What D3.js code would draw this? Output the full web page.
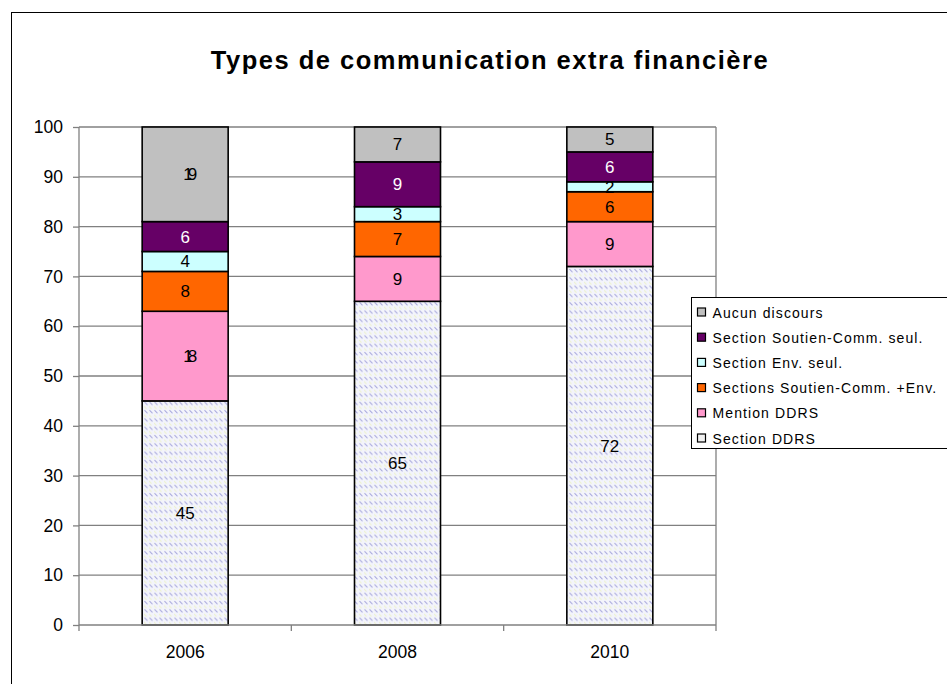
<!DOCTYPE html>
<html lang="fr">
<head>
  <meta charset="UTF-8">
  <script src="https://d3js.org/d3.v7.min.js"></script>
  <title>Types de communication extra financière</title>
  <style>
    body { margin: 0; background: #fff; }
    svg { display: block; font-family: "Liberation Sans", Arial, sans-serif; }
  </style>
</head>
<body>
  <script>
    // data
    const years = ["2006", "2008", "2010"]
    const seriesNames = [
      "Section DDRS",
      "Mention DDRS",
      "Sections Soutien-Comm. +Env.",
      "Section Env. seul.",
      "Section Soutien-Comm. seul.",
      "Aucun discours"
    ]
    const sectionDDRS = [45, 65, 72]
    const mentionDDRS = [18, 9, 9]
    const soutienEnv = [8, 7, 6]
    const envSeul = [4, 3, 2]
    const soutienSeul = [6, 9, 6]
    const aucun = [19, 7, 5]
    const yTicks = [0, 10, 20, 30, 40, 50, 60, 70, 80, 90, 100]

    const colors = ["url(#ddrs)", "#ff99cc", "#ff6600", "#ccffff", "#660066", "#c0c0c0"]
    const textColors = ["#000", "#000", "#000", "#000", "#fff", "#000"]

    const table = years.map((y, i) => ({
      year: y,
      s0: sectionDDRS[i], s1: mentionDDRS[i], s2: soutienEnv[i],
      s3: envSeul[i], s4: soutienSeul[i], s5: aucun[i]
    }))
    const keys = ["s0", "s1", "s2", "s3", "s4", "s5"]

    const dimensions = {
      width: 947,
      height: 684,
      margin: { top: 127, right: 231, bottom: 59, left: 79 }
    }
    dimensions.boundedWidth = dimensions.width - dimensions.margin.left - dimensions.margin.right
    dimensions.boundedHeight = dimensions.height - dimensions.margin.top - dimensions.margin.bottom

    const svg = d3.select("body").append("svg")
        .attr("width", dimensions.width)
        .attr("height", dimensions.height)

    // hatched fill for Section DDRS
    const pat = svg.append("defs").append("pattern")
        .attr("id", "ddrs")
        .attr("patternUnits", "userSpaceOnUse")
        .attr("width", 5).attr("height", 8.3)
    pat.append("rect").attr("width", 5).attr("height", 8.3).attr("fill", "#f3f4fb")
    pat.append("line").attr("x1", 0.5).attr("y1", 1).attr("x2", 3.5).attr("y2", 4)
        .attr("stroke", "#a9a9dd").attr("stroke-width", 1.1)
    pat.append("line").attr("x1", 0).attr("y1", 5.5).attr("x2", 2.5).attr("y2", 8)
        .attr("stroke", "#eef3cf").attr("stroke-width", 1)

    // outer frame (goes past the window on right and bottom)
    svg.append("rect")
        .attr("x", 11.5).attr("y", 12.5)
        .attr("width", 1000).attr("height", 1000)
        .attr("fill", "none").attr("stroke", "#000").attr("stroke-width", 1)

    svg.append("text")
        .attr("x", 490).attr("y", 69)
        .attr("text-anchor", "middle")
        .style("font-size", "25.5px").style("font-weight", "bold")
        .style("letter-spacing", "1.5px")
        .text("Types de communication extra financière")

    const bounds = svg.append("g")
        .attr("transform", `translate(${dimensions.margin.left},${dimensions.margin.top})`)

    const xScale = d3.scaleBand()
        .domain(years)
        .range([0, dimensions.boundedWidth])
        .paddingInner(0.595).paddingOuter(0.2975)
    const xOuter = d3.scaleBand().domain(years).range([0, dimensions.boundedWidth])
    const yScale = d3.scaleLinear()
        .domain([0, 100])
        .range([dimensions.boundedHeight, 0])

    // gridlines
    bounds.append("g").selectAll("line")
        .data(yTicks.slice(1))
        .join("line")
        .attr("x1", 0).attr("x2", dimensions.boundedWidth)
        .attr("y1", d => yScale(d)).attr("y2", d => yScale(d))
        .attr("stroke", "#808080").attr("stroke-width", 1.3)
    bounds.append("line")
        .attr("x1", dimensions.boundedWidth).attr("x2", dimensions.boundedWidth)
        .attr("y1", 0).attr("y2", dimensions.boundedHeight)
        .attr("stroke", "#808080").attr("stroke-width", 1.3)

    const stacked = d3.stack().keys(keys)(table)

    const layers = bounds.append("g").selectAll("g")
        .data(stacked)
        .join("g")
        .attr("fill", (d, i) => colors[i])

    layers.selectAll("rect")
        .data(d => d)
        .join("rect")
        .attr("x", d => xScale(d.data.year))
        .attr("width", xScale.bandwidth())
        .attr("y", d => yScale(d[1]))
        .attr("height", d => yScale(d[0]) - yScale(d[1]))
        .attr("stroke", "#000").attr("stroke-width", 1.6)

    // the two-digit labels in the small segments come out squeezed in the original
    layers.selectAll("text")
        .data((d, i) => d.map(v => ({ v, i })))
        .join("text")
        .attr("x", d => xScale(d.v.data.year) + xScale.bandwidth() / 2 + ((d.i > 0 && d.v[1] - d.v[0] >= 10) ? 2.5 : 0))
        .attr("y", d => yScale((d.v[0] + d.v[1]) / 2) + 6)
        .attr("text-anchor", "middle")
        .attr("fill", d => textColors[d.i])
        .style("font-size", "17px")
        .style("letter-spacing", d => (d.i > 0 && d.v[1] - d.v[0] >= 10) ? "-5px" : "0px")
        .text(d => d.v[1] - d.v[0])

    // y axis
    const yAxis = bounds.append("g")
        .call(d3.axisLeft(yScale).tickValues(yTicks).tickSize(6).tickPadding(10))
    yAxis.selectAll("path, line").attr("stroke", "#808080").attr("stroke-width", 1.3)
    yAxis.selectAll("text").style("font-size", "17.5px").attr("fill", "#000")
    yAxis.select(".domain").attr("d", `M0,0V${dimensions.boundedHeight}`)

    // x axis with ticks between categories
    const xAxis = bounds.append("g")
        .attr("transform", `translate(0,${dimensions.boundedHeight})`)
    xAxis.append("line")
        .attr("x1", 0).attr("x2", dimensions.boundedWidth)
        .attr("stroke", "#808080").attr("stroke-width", 1.3)
    xAxis.selectAll(".tk")
        .data([...years.map(y => xOuter(y)), dimensions.boundedWidth])
        .join("line")
        .attr("class", "tk")
        .attr("x1", d => d).attr("x2", d => d)
        .attr("y1", 0).attr("y2", 6)
        .attr("stroke", "#808080").attr("stroke-width", 1.3)
    xAxis.selectAll("text")
        .data(years)
        .join("text")
        .attr("x", d => xOuter(d) + xOuter.bandwidth() / 2)
        .attr("y", 33)
        .attr("text-anchor", "middle")
        .style("font-size", "17.5px")
        .text(d => d)

    // legend
    const legend = svg.append("g").attr("transform", "translate(691.5,297.5)")
    legend.append("rect")
        .attr("width", 270).attr("height", 151)
        .attr("fill", "#fff").attr("stroke", "#000").attr("stroke-width", 1)
    const legendItems = legend.selectAll("g")
        .data(seriesNames.map((n, i) => ({ n, i })).reverse())
        .join("g")
        .attr("transform", (d, j) => `translate(6,${15 + j * 25.2})`)
    legendItems.append("rect")
        .attr("x", 0).attr("y", -4.5)
        .attr("width", 8).attr("height", 8)
        .attr("fill", d => d.i === 0 ? "#f0f0f0" : colors[d.i])
        .attr("stroke", "#000").attr("stroke-width", 1.2)
    legendItems.append("text")
        .attr("x", 15).attr("y", 5)
        .style("font-size", "14px")
        .style("letter-spacing", "1.1px")
        .text(d => d.n)
  </script>
</body>
</html>
